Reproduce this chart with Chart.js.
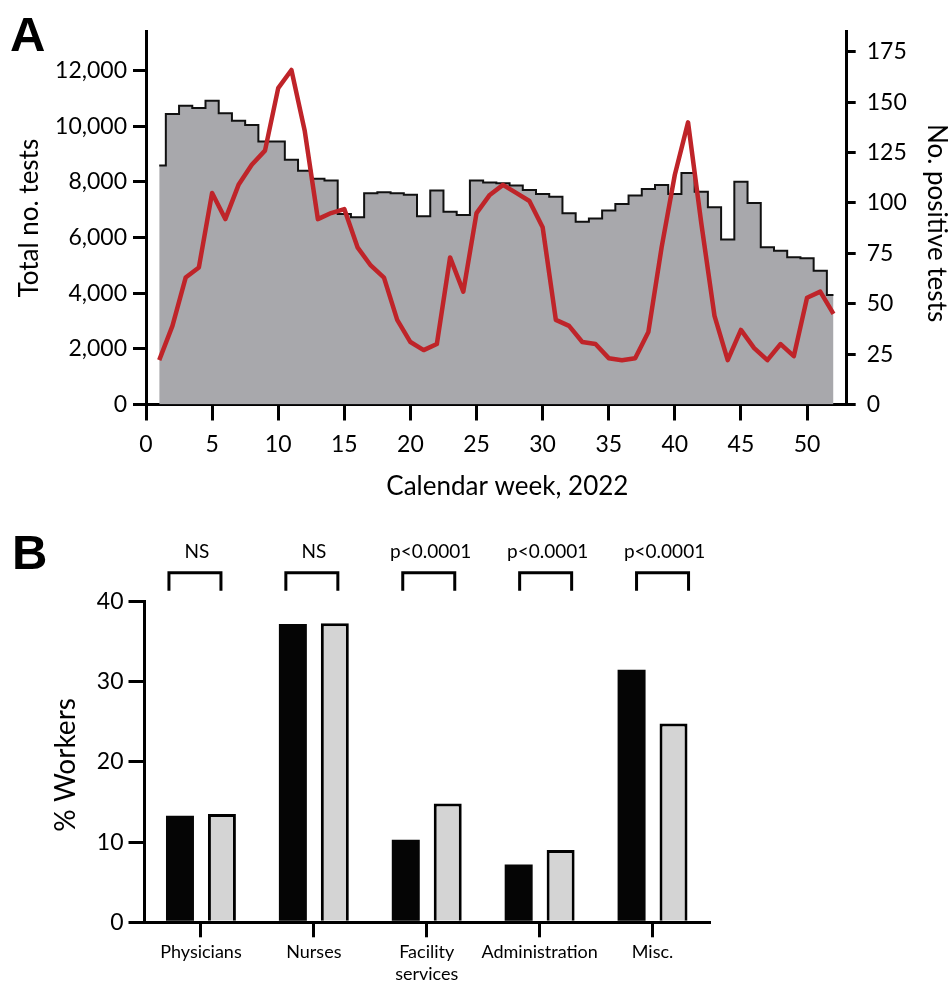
<!DOCTYPE html>
<html>
<head>
<meta charset="utf-8">
<script src="https://cdn.jsdelivr.net/npm/chart.js@4.4.1/dist/chart.umd.min.js"></script>
<style>
  html, body { margin: 0; padding: 0; background: #fff; }
  body { width: 950px; height: 983px; position: relative; overflow: hidden; }
  .panel { position: absolute; left: 0; width: 950px; }
  .panel canvas { display: block; }
  #panelA { top: 0; height: 510px; }
  #panelB { top: 510px; height: 473px; }
  .tag { position: absolute; font: bold 49px 'Liberation Sans', Arial, sans-serif; line-height: 49px; color: #000; }
</style>
</head>
<body>
<div class="panel" id="panelA"><canvas id="chartA" width="950" height="510"></canvas></div>
<div class="panel" id="panelB"><canvas id="chartB" width="950" height="473"></canvas></div>
<div class="tag" style="left:10px;top:10px;">A</div>
<div class="tag" style="left:12px;top:528px;">B</div>

<script>
// ---- Panel A: weekly testing, 2022 ----
const weeks = [1, 2, 3, 4, 5, 6, 7, 8, 9, 10, 11, 12, 13, 14, 15, 16, 17, 18, 19, 20,
  21, 22, 23, 24, 25, 26, 27, 28, 29, 30, 31, 32, 33, 34, 35, 36, 37, 38, 39, 40,
  41, 42, 43, 44, 45, 46, 47, 48, 49, 50, 51, 52];

const totalTests = [8590, 10440, 10740, 10660, 10920, 10470, 10200, 10050, 9450, 9450,
  8800, 8400, 8110, 8050, 6850, 6730, 7590, 7630, 7590, 7540,
  6770, 7690, 6930, 6810, 8050, 7980, 7950, 7870, 7710, 7570,
  7470, 6870, 6570, 6690, 6970, 7210, 7510, 7750, 7890, 7570,
  8320, 7650, 7090, 5930, 8010, 7240, 5650, 5530, 5290, 5260,
  4810, 3940];

const positiveTests = [22, 39, 63, 68, 105, 92, 109, 119, 126, 157,
  166, 136, 92, 95, 97, 78, 69, 63, 42, 31,
  27, 30, 73, 56, 95, 104, 109, 105, 101, 88,
  42, 39, 31, 30, 23, 22, 23, 36, 78, 114,
  140, 90, 44, 22, 37, 28, 22, 30, 24, 53,
  56, 45];

// Tick values for the left (total tests) axis
const testAxisTicks = [0, 2000, 4000, 6000, 8000, 10000, 12000];

// ---- Panel B: share of workers by occupation ----
const occupations = ['Physicians', 'Nurses', ['Facility', 'services'], 'Administration', 'Misc.'];
const sharePositive = [13.3, 37.2, 10.3, 7.2, 31.5];
const shareAllStaff = [13.5, 37.3, 14.8, 9.0, 24.8];
const comparisonLabels = ['NS', 'NS', 'p<0.0001', 'p<0.0001', 'p<0.0001'];

const FONT = "Lato, 'Open Sans', sans-serif";
const INK = '#000';

function axisStyle(tickLength) {
  return {
    display: true,
    drawOnChartArea: false,
    drawTicks: true,
    tickLength: tickLength,
    color: INK,
    lineWidth: 3
  };
}

// Free-standing axis captions drawn relative to the plot area
function captions(items) {
  return {
    id: 'captions',
    afterDraw(chart) {
      const { ctx, chartArea: a } = chart;
      items.forEach(it => {
        const p = it.at(a);
        ctx.save();
        ctx.fillStyle = INK;
        ctx.font = it.font;
        ctx.textAlign = 'center';
        ctx.textBaseline = 'middle';
        ctx.translate(p.x, p.y);
        ctx.rotate(it.rot || 0);
        ctx.fillText(it.text, 0, 0);
        ctx.restore();
      });
    }
  };
}

new Chart(document.getElementById('chartA'), {
  type: 'line',
  data: {
    datasets: [
      {
        label: 'No. positive tests',
        data: weeks.map((w, i) => ({ x: w, y: positiveTests[i] })),
        yAxisID: 'yPos',
        borderColor: '#bf2429',
        borderWidth: 4.5,
        borderJoinStyle: 'round',
        pointRadius: 0,
        fill: false,
        tension: 0,
        order: 0
      },
      {
        label: 'Total no. tests',
        data: weeks.map((w, i) => ({ x: w, y: totalTests[i] })),
        yAxisID: 'yTests',
        stepped: 'middle',
        fill: 'origin',
        backgroundColor: '#a8a8ac',
        borderColor: '#111',
        borderWidth: 2,
        pointRadius: 0,
        order: 1
      }
    ]
  },
  options: {
    responsive: false,
    animation: false,
    layout: { padding: { top: 31.7, left: 0, right: 0, bottom: 0 } },
    plugins: { legend: { display: false }, tooltip: { enabled: false } },
    scales: {
      x: {
        type: 'linear',
        min: 0,
        max: 53,
        grid: axisStyle(16),
        border: { display: true, color: INK, width: 3 },
        ticks: { stepSize: 5, includeBounds: false, color: INK, padding: 10, font: { family: FONT, size: 23 } },
        afterFit: s => { s.height = 105.5; }
      },
      yTests: {
        position: 'left',
        min: 0,
        max: 13400,
        grid: axisStyle(13),
        border: { display: true, color: INK, width: 3 },
        ticks: {
          color: INK, padding: 6,
          font: { family: FONT, size: 23 },
          callback: v => v.toLocaleString('en-US')
        },
        afterBuildTicks: s => { s.ticks = testAxisTicks.map(v => ({ value: v })); },
        afterFit: s => { s.width = 146; }
      },
      yPos: {
        position: 'right',
        min: 0,
        max: 185,
        grid: axisStyle(9),
        border: { display: true, color: INK, width: 3 },
        ticks: { stepSize: 25, includeBounds: false, color: INK, padding: 11, font: { family: FONT, size: 23 } },
        afterFit: s => { s.width = 103.3; }
      }
    }
  },
  plugins: [captions([
    { text: 'Total no. tests', font: `26px ${FONT}`, rot: -Math.PI / 2,
      at: a => ({ x: 30, y: (a.top + a.bottom) / 2 }) },
    { text: 'No. positive tests', font: `26px ${FONT}`, rot: Math.PI / 2,
      at: a => ({ x: 936, y: (a.top + a.bottom) / 2 + 5 }) },
    { text: 'Calendar week, 2022', font: `26px ${FONT}`,
      at: a => ({ x: (a.left + a.right) / 2 + 11, y: 487 }) }
  ])]
});

// Brackets and test labels above each occupation pair
const comparisonBrackets = {
  id: 'comparisonBrackets',
  afterDraw(chart) {
    const { ctx, scales: { x } } = chart;
    const half = 26;
    const top = 62.7, foot = 80.7;
    ctx.save();
    ctx.strokeStyle = INK;
    ctx.lineWidth = 3;
    ctx.lineJoin = 'miter';
    ctx.fillStyle = INK;
    ctx.font = `19px ${FONT}`;
    ctx.textAlign = 'center';
    ctx.textBaseline = 'middle';
    comparisonLabels.forEach((txt, i) => {
      const cx = x.getPixelForValue(i) - 6 + 4 * i;
      ctx.beginPath();
      ctx.moveTo(cx - half, foot);
      ctx.lineTo(cx - half, top);
      ctx.lineTo(cx + half, top);
      ctx.lineTo(cx + half, foot);
      ctx.stroke();
      ctx.fillText(txt, cx + 2, 42);
    });
    ctx.restore();
  }
};

new Chart(document.getElementById('chartB'), {
  type: 'bar',
  data: {
    labels: occupations,
    datasets: [
      {
        label: 'Positive workers',
        data: sharePositive,
        backgroundColor: '#050505',
        borderWidth: 0,
        categoryPercentage: 0.743,
        barPercentage: 0.667
      },
      {
        label: 'All workers',
        data: shareAllStaff,
        backgroundColor: '#d4d4d4',
        borderColor: INK,
        borderWidth: 3,
        categoryPercentage: 0.743,
        barPercentage: 0.667
      }
    ]
  },
  options: {
    responsive: false,
    animation: false,
    layout: { padding: { top: 91.5, left: 0, right: 241, bottom: 0 } },
    plugins: { legend: { display: false }, tooltip: { enabled: false } },
    scales: {
      x: {
        type: 'category',
        offset: true,
        grid: Object.assign(axisStyle(15), { offset: false }),
        border: { display: true, color: INK, width: 3 },
        ticks: { color: INK, padding: 4, autoSkip: false, maxRotation: 0, font: { family: FONT, size: 18 } },
        afterFit: s => { s.height = 60.7; }
      },
      y: {
        min: 0,
        max: 40,
        grid: axisStyle(16),
        border: { display: true, color: INK, width: 3 },
        ticks: { stepSize: 10, color: INK, padding: 5, font: { family: FONT, size: 23 } },
        afterFit: s => { s.width = 144.5; }
      }
    }
  },
  plugins: [comparisonBrackets, captions([
    { text: '% Workers', font: `28px ${FONT}`, rot: -Math.PI / 2,
      at: a => ({ x: 66, y: (a.top + a.bottom) / 2 + 3 }) }
  ])]
});
</script>
</body>
</html>
